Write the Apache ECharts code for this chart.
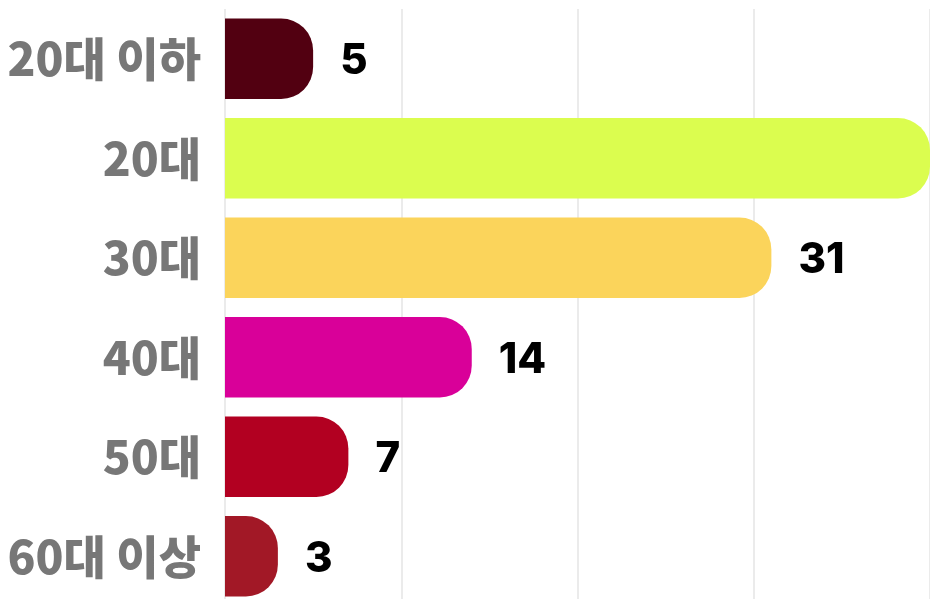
<!DOCTYPE html>
<html>
<head>
<meta charset="utf-8">
<script src="https://cdn.jsdelivr.net/npm/echarts@6/dist/echarts.min.js"></script>
<style>
  html, body { margin: 0; padding: 0; background: #fff; }
  #chart { width: 930px; height: 599px; }
</style>
</head>
<body>
<div id="chart"></div>
<script>
// 연령대별 인원
const categories = ['20대 이하', '20대', '30대', '40대', '50대', '60대 이상'];
const values = [5, 40, 31, 14, 7, 3];

// 막대 색상
const barColors = ['#520011', '#dbfd4f', '#fbd45b', '#d90099', '#b20021', '#a21826'];

const chart = echarts.init(document.getElementById('chart'));

chart.setOption({
  animation: false,
  grid: {
    left: 225,
    right: 0,
    top: 9,
    bottom: -7,
    containLabel: false,
    outerBoundsMode: 'none',
  },
  xAxis: {
    type: 'value',
    min: 0,
    max: 40,
    interval: 10,
    axisLabel: { show: false },
    axisLine: { show: false },
    axisTick: { show: false },
    splitLine: {
      show: true,
      lineStyle: { color: '#ebebeb', width: 2 },
    },
  },
  yAxis: {
    type: 'category',
    inverse: true,
    data: categories,
    axisLine: { show: false },
    axisTick: { show: false },
    axisLabel: {
      margin: 24,
      padding: [5, 0, 0, 0],
      color: '#777777',
      fontSize: 46,
      fontWeight: 900,
      fontFamily: 'Noto Sans CJK KR',
    },
  },
  series: [
    {
      type: 'bar',
      data: values.map((v, i) => ({ value: v, itemStyle: { color: barColors[i] } })),
      barWidth: '81%',
      itemStyle: {
        borderRadius: [0, 32, 32, 0],
      },
      label: {
        show: true,
        position: 'right',
        distance: 27,
        offset: [0, 3],
        color: '#000',
        fontSize: 42,
        fontWeight: 800,
        fontFamily: 'Inter',
      },
    },
  ],
});
</script>
</body>
</html>
